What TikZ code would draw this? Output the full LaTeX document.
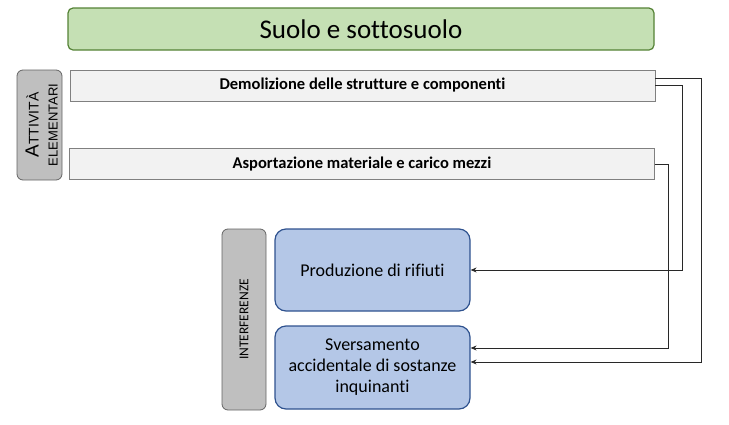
\documentclass[tikz,border=0pt]{standalone}
\usepackage{fontspec}
\setmainfont{Carlito}[Ligatures=NoCommon]
\newfontfamily\arialfont{Liberation Sans}
\usetikzlibrary{arrows.meta}
\definecolor{titlefill}{RGB}{197,224,180}
\definecolor{titledraw}{RGB}{84,130,53}
\definecolor{actfill}{RGB}{242,242,242}
\definecolor{actdraw}{RGB}{128,128,128}
\definecolor{tagfill}{RGB}{191,191,191}
\definecolor{tagdraw}{RGB}{100,100,100}
\definecolor{interfill}{RGB}{180,199,231}
\definecolor{interdraw}{RGB}{47,82,143}
\definecolor{wire}{RGB}{40,40,40}
\tikzset{
	titlebox/.style={rectangle, rounded corners=5pt, fill=titlefill, draw=titledraw, line width=1.2pt, minimum width=586pt, minimum height=42pt, font=\fontsize{27}{30}\selectfont},
	actbox/.style={rectangle, fill=actfill, draw=actdraw, line width=0.8pt, minimum width=585pt, minimum height=31pt, font=\fontsize{16.5}{19}\selectfont\bfseries},
	tagbox/.style={rectangle, rounded corners=6pt, fill=tagfill, draw=tagdraw, line width=0.8pt},
	interbox/.style={rectangle, rounded corners=11pt, fill=interfill, draw=interdraw, line width=1.2pt, minimum width=195pt, minimum height=82pt, align=center, font=\fontsize{18}{21}\selectfont},
	link/.style={-{Stealth[length=6pt,width=5pt]}, draw=wire, line width=0.9pt}
}
\begin{document}
\begin{tikzpicture}[x=1pt, y=-1pt]
	\useasboundingbox (0,0) rectangle (729,424);
	\node[titlebox](title) at (361,29){Suolo e sottosuolo};
	\node[tagbox, minimum width=45pt, minimum height=110pt](attivita) at (39.5,125){};
	\node[rotate=90, align=center, font=\arialfont](attivitalabel) at ([xshift=2pt]attivita.center){{\fontsize{19}{19}\selectfont A}{\fontsize{14}{14}\selectfont TTIVITÀ}\\[7pt]{\fontsize{13}{13}\selectfont ELEMENTARI}};
	\node[actbox](demolizione) at (362.5,85.5){Demolizione delle strutture e componenti};
	\node[actbox](asportazione) at (362,164){Asportazione materiale e carico mezzi};
	\node[tagbox, minimum width=44pt, minimum height=181pt](interferenze) at (244,319.5){};
	\node[rotate=90, font=\fontsize{13.5}{15}\selectfont](interferenzelabel) at (interferenze.center){INTERFERENZE};
	\node[interbox](rifiuti) at (372.5,270){Produzione di rifiuti};
	\node[interbox, minimum height=83pt](sversamento) at (372.5,367.5){Sversamento\\accidentale di sostanze\\inquinanti};
	\draw[link] ([yshift=7.5pt]demolizione.east) -- ++(46,0) |- ([yshift=5.5pt]sversamento.east);
	\draw[link] (demolizione.east) -- ++(27,0) |- (rifiuti.east);
	\draw[link] (asportazione.east) -- ++(14,0) |- ([yshift=19.5pt]sversamento.east);
\end{tikzpicture}
\end{document}
